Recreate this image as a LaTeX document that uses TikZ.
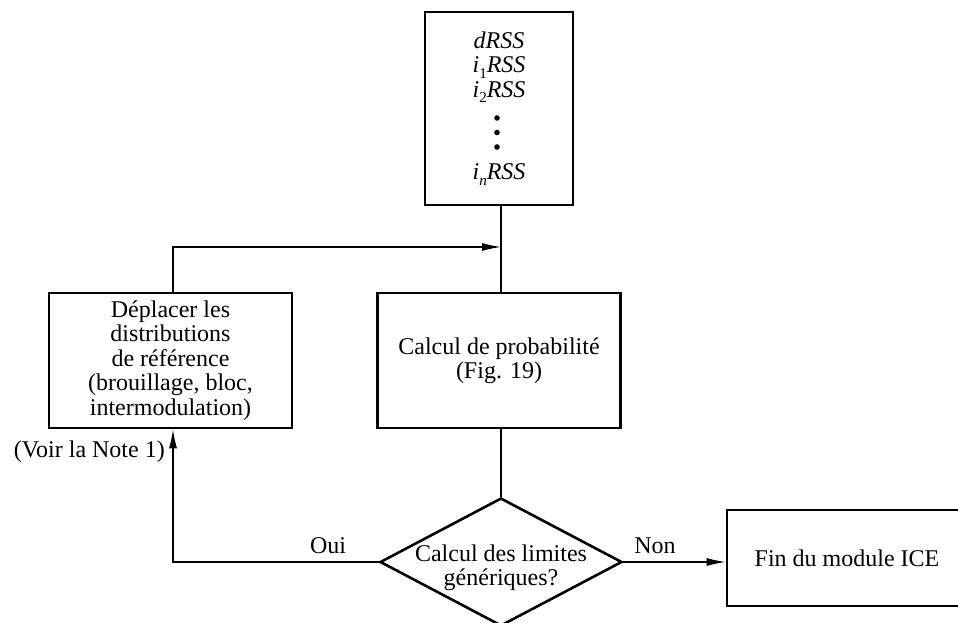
\documentclass[tikz,border=0pt]{standalone}
\usepackage{fontspec}
\setmainfont{Liberation Serif}
\usetikzlibrary{arrows.meta,shapes.geometric}

% lowered index after an italic letter
\newcommand{\idx}[1]{\raisebox{-5.5pt}{\fontsize{15}{15}\selectfont #1}}

\begin{document}
\begin{tikzpicture}[x=1pt,y=1pt,
  every node/.style={font=\fontsize{24}{24.5}\selectfont},
  box/.style={draw, line width=2.6pt, inner sep=0pt, align=center},
  decision/.style={diamond, draw, line width=2.6pt, inner sep=0pt, aspect=1.9},
  heavy/.style={line width=2.2pt},
  flow/.style={line width=1.3pt, -{Latex[length=19pt,width=8pt]}},
  lbl/.style={inner sep=0pt}]

\useasboundingbox (0,0) rectangle (958,-623);
\clip (0,0) rectangle (958,-623);

% signal levels
\node[box, minimum width=148, minimum height=193] (rss) at (499,-108.5)
  {\textit{dRSS}\\
   \textit{i}\idx{1}\textit{RSS}\\
   \textit{i}\idx{2}\textit{RSS}\\[58pt]
   \textit{i}\idx{\textit{n}}\textit{RSS}};
\fill ([xshift=-2pt,yshift=-9.5pt]rss.center) circle (2.8);
\fill ([xshift=-2pt,yshift=-24pt]rss.center) circle (2.8);
\fill ([xshift=-2pt,yshift=-38.5pt]rss.center) circle (2.8);

% processing blocks
\node[box, minimum width=243, minimum height=135] (prob) at (499,-360.5)
  {Calcul de probabilité\\(Fig. 19)};
\node[box, minimum width=243, minimum height=135] (shift) at (170.5,-360.5)
  {Déplacer les\\distributions\\de référence\\(brouillage, bloc,\\intermodulation)};

% decision
\node[decision, minimum width=242, minimum height=128] (dec) at (501,-562) {};
\node[lbl, align=center] (dectext) at (501,-568) {Calcul des limites\\génériques?};

% end
\node[box, minimum width=240, minimum height=96] (fin) at (847,-558) {Fin du module ICE};

% connectors
\coordinate (join) at (501,-247);
\draw[heavy] ([xshift=2pt]rss.south) -- ([xshift=2pt]prob.north);
\draw[flow] ([xshift=2.5pt]shift.north) |- (join);
\draw[heavy] (dec.north |- prob.south) -- (dec.north);
\draw[flow] (dec.west) -| ([xshift=2.5pt]shift.south);
\draw[flow] (dec.east) -- (fin.west |- dec.east);

% labels
\node[lbl] (oui) at (328,-546) {Oui};
\node[lbl] (non) at (655,-546) {Non};
\node[lbl, anchor=east] (note) at (165,-452) {(Voir la Note 1)};
\end{tikzpicture}
\end{document}
